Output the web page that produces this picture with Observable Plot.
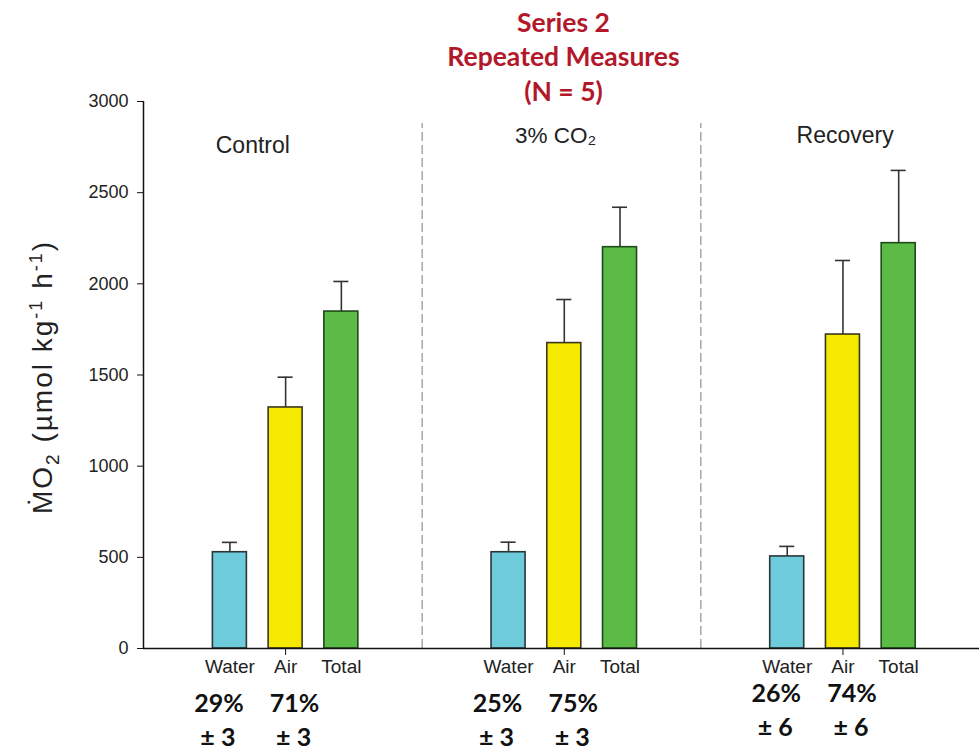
<!DOCTYPE html>
<html><head><meta charset="utf-8">
<script src="https://cdn.jsdelivr.net/npm/d3@7"></script>
<script src="https://cdn.jsdelivr.net/npm/@observablehq/plot@0.6"></script>
<style>
body{margin:0;background:#fff}
#chart{position:relative;width:979px;height:751px}
svg{overflow:visible}
</style>
</head><body><div id="chart"></div>
<script>
// ---- data ----
const conditions = ["Control", "3% CO₂", "Recovery"];
const measures = ["Water", "Air", "Total"];
const controlMean = [528, 1322, 1848];
const controlSE = [54, 166, 165];
const co2Mean = [528, 1675, 2201];
const co2SE = [55, 239, 219];
const recoveryMean = [505, 1722, 2223];
const recoverySE = [55, 406, 399];
const waterPercent = [29, 25, 26];
const airPercent = [71, 75, 74];
const percentSE = [3, 3, 6];
const yTicks = [0, 500, 1000, 1500, 2000, 2500, 3000];
const titleLines = ["Series 2", "Repeated Measures", "(N = 5)"];

// ---- styling / layout ----
const colors = {Water: "#6dcbdc", Air: "#f5e900", Total: "#5cba47"};
const outlines = {Water: "#2a3538", Air: "#3a3620", Total: "#1f4a1b"};
const groupSpan = 5, firstBar = 1.55, halfBar = 0.305, halfCap = 0.135;
const allMeans = [controlMean, co2Mean, recoveryMean];
const allSE = [controlSE, co2SE, recoverySE];

const rows = [];
conditions.forEach((c, g) => measures.forEach((m, b) => rows.push({
  condition: c, measure: m, g, pos: g * groupSpan + firstBar + b,
  mean: allMeans[g][b], se: allSE[g][b]
})));
const pctRows = conditions.map((c, g) => ({
  g, water: g * groupSpan + firstBar, air: g * groupSpan + firstBar + 1,
  wp: waterPercent[g], ap: airPercent[g], se: percentSE[g]
}));
const airTicks = rows.filter(d => d.measure === "Air").map(d => d.pos);
const dividers = d3.range(1, conditions.length).map(i => i * groupSpan);

const boldFont = "Lato, 'Open Sans', sans-serif";
function pctMarks(filter, dyTop) {
  const data = pctRows.filter(filter);
  const common = {y: 0, fontSize: 25, fontWeight: 700, fontFamily: boldFont, fill: "#111"};
  return [
    Plot.text(data, {...common, x: "water", text: d => d.wp + "%", dy: dyTop, dx: -11}),
    Plot.text(data, {...common, x: "air", text: d => d.ap + "%", dy: dyTop, dx: 9}),
    Plot.text(data, {...common, x: "water", text: d => "± " + d.se, dy: dyTop + 34, dx: -12}),
    Plot.text(data, {...common, x: "air", text: d => "± " + d.se, dy: dyTop + 34, dx: 8})
  ];
}

const chart = Plot.plot({
  width: 979, height: 751,
  marginLeft: 143, marginRight: 0, marginTop: 101, marginBottom: 103,
  style: {fontFamily: "'Liberation Sans', Arial, sans-serif", background: "white", color: "#222"},
  x: {domain: [0, conditions.length * groupSpan], axis: null},
  y: {domain: [0, 3000], axis: null},
  color: {type: "identity"},
  marks: [
    Plot.ruleX(dividers, {y1: 0, y2: 2880, stroke: "#9a9a9a", strokeWidth: 1.3, strokeDasharray: "9,4"}),
    Plot.rectY(rows, {x1: d => d.pos - halfBar, x2: d => d.pos + halfBar, y1: 0, y2: "mean",
      fill: d => colors[d.measure], stroke: d => outlines[d.measure], strokeWidth: 1.6}),
    Plot.ruleX(rows, {x: "pos", y1: "mean", y2: d => d.mean + d.se, stroke: "#333", strokeWidth: 1.6}),
    Plot.ruleY(rows, {y: d => d.mean + d.se, x1: d => d.pos - halfCap, x2: d => d.pos + halfCap, stroke: "#333", strokeWidth: 1.6}),
    Plot.ruleY([0], {stroke: "#111", strokeWidth: 1.5}),
    Plot.ruleX([0], {y1: 0, y2: 3000, stroke: "#111", strokeWidth: 1.5}),
    Plot.axisY({ticks: yTicks, tickSize: 6, tickPadding: 9, fontSize: 18, label: null, stroke: "#111",
      tickFormat: d => String(d)}),
    Plot.axisX({ticks: airTicks, tickSize: 7, tickFormat: () => "", label: null, stroke: "#111"}),
    Plot.text(rows, {x: "pos", y: 0, text: "measure", dy: 18, fontSize: 19, fill: "#222"}),
    Plot.text(conditions.slice(0, 1), {x: () => 2.5, frameAnchor: "top", lineAnchor: "middle", dy: 44, dx: -30, fontSize: 23, fill: "#222"}),
    Plot.text(conditions.slice(1, 2), {x: () => groupSpan + 2.5, frameAnchor: "top", lineAnchor: "middle", dy: 34, dx: -6, fontSize: 22.5, fill: "#222"}),
    Plot.text(conditions.slice(2, 3), {x: () => 2 * groupSpan + 2.5, frameAnchor: "top", lineAnchor: "middle", dy: 34, dx: 5, fontSize: 23, fill: "#222"}),
    ...pctMarks(d => d.g < 2, 55),
    ...pctMarks(d => d.g === 2, 45),
    Plot.text([titleLines.join("\n")], {frameAnchor: "top", lineAnchor: "top", dy: -94, dx: 2,
      lineHeight: 1.3, fontSize: 26.5, fontWeight: 700, fontFamily: boldFont, fill: "#b3182a"})
  ]
});
document.getElementById("chart").appendChild(chart);

// y-axis label with dot, subscript and superscripts
const lab = d3.select(chart).append("text")
  .attr("transform", "translate(42,377) rotate(-90)")
  .attr("text-anchor", "middle")
  .attr("dy", "0.35em")
  .attr("font-size", 28)
  .attr("letter-spacing", 2)
  .attr("fill", "#222")
  .attr("font-family", "'Liberation Sans', Arial, sans-serif");
lab.append("tspan").text("\u1E40O");
lab.append("tspan").attr("font-size", 19).attr("dy", 7).text("2");
lab.append("tspan").attr("dy", -7).text(" (µmol kg");
lab.append("tspan").attr("font-size", 18).attr("dy", -10).text("-1");
lab.append("tspan").attr("dy", 10).text(" h");
lab.append("tspan").attr("font-size", 18).attr("dy", -10).text("-1");
lab.append("tspan").attr("dy", 10).text(")");
</script>
</body></html>
